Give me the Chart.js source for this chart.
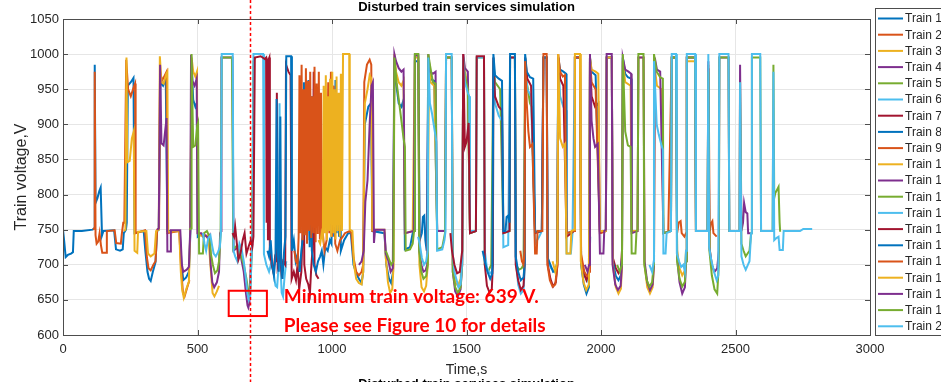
<!DOCTYPE html>
<html>
<head>
<meta charset="utf-8">
<title>Disturbed train services simulation</title>
<script src="https://cdn.jsdelivr.net/npm/chart.js@4.4.1/dist/chart.umd.min.js"></script>
<style>
    html, body { margin: 0; padding: 0; background: #fff; }
    #wrap { width: 941px; height: 382px; overflow: hidden; }
</style>
</head>
<body>
<div id="wrap"><canvas id="voltage" width="941" height="382"></canvas></div>
<script>
// Pantograph voltage of each train, [time s, voltage V]
const train1 = [[0,750],[4,735],[10,711],[18,714],[30,716],[37,718],[40,748],[70,748],[110,750],[116,752],[118,985],[121,788],[128,795],[135,805],[140,810],[145,742],[150,748],[190,749],[197,722],[212,720],[222,722],[226,745],[234,750],[237,760],[241,955],[252,960],[262,966],[266,745],[300,748],[306,720],[314,690],[320,680],[326,677],[334,690],[344,704],[350,748],[356,750],[362,960],[372,955],[382,965],[388,748],[434,748],[440,705],[447,678],[458,682],[468,690],[474,750],[478,985],[484,935],[492,925],[497,930],[501,740],[510,742]];
const train2 = [[112,750],[116,752],[118,975],[121,742],[125,730],[131,733],[136,745],[141,728],[146,717],[160,717],[163,748],[192,749],[198,731],[215,730],[219,745],[224,760],[228,760],[235,992],[242,950],[252,940],[263,953],[268,958],[270,745],[305,749],[312,710],[318,695],[326,692],[336,700],[344,705],[350,750],[357,752],[361,975],[368,962],[376,968],[385,975],[388,745],[432,748],[440,690],[446,660],[452,655],[462,668],[470,678]];
const train3 = [[226,748],[232,750],[236,995],[239,846],[248,848],[256,880],[263,890],[266,720],[276,717],[279,747],[310,748],[316,716],[326,712],[340,716],[346,748],[356,750],[360,997],[366,960],[374,958],[384,972],[388,975],[391,747],[432,748],[438,690],[443,665],[449,653],[458,665],[468,676],[473,748],[478,995],[484,975],[492,968],[498,975],[501,745],[520,740],[540,742],[548,700],[556,660],[563,655],[572,662],[580,670]];
const train4 = [[350,750],[356,752],[361,985],[366,873],[374,870],[381,895],[385,909],[388,719],[398,719],[401,749],[436,749],[442,700],[447,690],[460,693],[468,697],[473,750],[476,999],[481,962],[489,955],[497,965],[500,745],[515,745],[522,740],[530,742],[538,738],[545,742],[549,700],[555,675],[562,668],[572,675],[580,690],[584,745],[588,748],[589,995],[630,995],[634,720],[650,725],[662,710],[672,690],[680,660],[686,642],[689,639],[693,645],[698,700],[704,730]];
const train5 = [[470,750],[476,752],[478,1000],[484,868],[492,870],[499,898],[502,902],[506,716],[520,716],[524,745],[535,748],[545,740],[550,715],[557,700],[565,688],[574,692],[580,705],[586,745],[590,995],[628,995],[633,722],[648,728],[660,715],[672,700],[682,680],[690,660],[696,665],[702,720],[708,990],[715,995]];
const train6 = [[520,745],[526,730],[532,720],[540,738],[548,742],[554,728],[560,716],[568,712],[576,718],[583,725],[587,745],[590,1000],[631,1000],[634,720],[640,712],[648,705],[656,730],[664,722],[672,705],[680,680],[686,658],[691,650],[696,655],[700,700],[705,760],[708,1000],[744,1000],[747,715],[756,700],[766,690],[774,702],[782,690],[790,670],[796,668],[800,690],[805,930],[808,700],[813,660],[818,655],[823,680],[830,705]];
const train7 = [[630,745],[636,740],[640,754],[645,735],[652,707],[660,716],[668,735],[675,745],[682,716],[690,726],[698,735],[704,726],[708,740],[713,995],[735,997],[750,993],[755,995],[757,760],[759,990],[762,735],[764,992],[767,995],[769,720],[776,700],[782,690],[788,710],[793,705],[795,945],[798,700],[806,715],[812,690],[818,705],[826,700],[829,985],[838,975],[846,970],[850,680],[858,690],[866,678],[872,700],[878,665],[886,690],[890,740],[894,930],[897,700],[904,680],[912,672],[918,660],[922,690],[927,720],[932,975],[935,700],[942,685],[950,680]];
const train8 = [[760,720],[766,712],[772,735],[778,700],[784,685],[790,712],[794,936],[797,730],[802,690],[808,911],[811,700],[816,680],[822,720],[827,740],[830,997],[848,997],[851,720],[858,735],[865,705],[872,715],[880,690],[886,720],[892,740],[896,960],[899,745],[904,945],[908,735],[913,963],[917,725],[922,940],[925,720],[932,700],[940,690],[948,705],[956,712],[962,720],[968,700],[975,725],[984,720],[992,735],[998,730],[1004,955],[1008,740],[1013,963],[1017,745],[1022,935],[1026,740],[1029,925],[1033,720],[1045,735],[1060,745],[1070,745],[1080,700],[1090,688],[1100,680],[1110,674],[1116,690],[1122,900],[1135,925],[1145,930],[1150,748],[1195,745],[1202,700],[1212,680],[1220,674],[1227,690],[1232,995],[1238,960],[1248,930],[1258,925],[1266,935],[1271,722],[1290,725],[1300,745],[1306,748],[1308,990],[1321,990],[1326,735],[1334,745],[1338,768],[1343,770],[1347,735],[1352,720],[1358,995],[1364,965],[1380,962],[1391,748]];
const train9 = [[860,720],[866,705],[872,700],[876,740],[879,970],[883,745],[887,985],[891,735],[895,950],[899,742],[903,980],[907,730],[911,962],[915,748],[919,975],[923,738],[927,940],[931,745],[935,982],[939,732],[943,958],[947,744],[951,975],[955,736],[959,945],[963,748],[967,740],[972,720],[980,735],[986,960],[990,745],[996,975],[1000,740],[1006,955],[1012,730],[1020,720],[1030,735],[1040,740],[1048,745],[1066,748],[1072,745],[1080,710],[1090,690],[1100,685],[1110,690],[1116,700],[1120,960],[1130,985],[1140,992],[1146,985],[1150,748],[1160,748]];
const train10 = [[950,735],[956,730],[962,745],[966,738],[969,955],[973,745],[977,970],[981,735],[985,940],[989,748],[993,965],[997,740],[1001,975],[1005,745],[1009,950],[1013,736],[1017,968],[1021,748],[1025,945],[1029,740],[1033,972],[1037,748],[1041,1000],[1064,1000],[1066,750],[1076,748],[1082,700],[1090,680],[1100,674],[1110,672],[1116,690],[1122,930],[1132,950],[1140,970],[1146,965],[1150,750],[1195,750],[1200,710],[1208,675],[1216,660],[1224,665],[1229,700],[1232,1000],[1238,975],[1248,960],[1258,955],[1266,962],[1271,745],[1300,748],[1308,995],[1321,995],[1325,700],[1333,668],[1342,662],[1350,670],[1356,700],[1360,990],[1366,960],[1380,955],[1391,748],[1420,748],[1424,995],[1445,995],[1449,700],[1458,675],[1468,670],[1478,680],[1484,720],[1488,995],[1494,975],[1505,955],[1513,748],[1520,748]];
const train11 = [[1100,700],[1110,705],[1118,720],[1124,790],[1132,820],[1140,900],[1147,955],[1152,960],[1156,731],[1160,750],[1195,750],[1200,716],[1210,705],[1218,690],[1226,695],[1232,1000],[1238,990],[1248,980],[1258,975],[1266,978],[1271,745],[1304,748],[1308,998],[1321,998],[1325,720],[1332,700],[1340,690],[1348,692],[1354,700],[1358,1000],[1364,975],[1375,972],[1385,975],[1391,748],[1420,748],[1424,995],[1445,995],[1449,690],[1458,662],[1468,655],[1478,665],[1484,700],[1488,1000],[1494,980],[1505,975],[1513,745],[1535,748]];
const train12 = [[1200,720],[1210,710],[1220,700],[1228,705],[1232,995],[1240,960],[1250,930],[1259,902],[1266,880],[1271,868],[1274,720],[1290,722],[1300,730],[1305,748],[1308,1000],[1321,1000],[1324,720],[1332,690],[1340,680],[1350,684],[1356,700],[1358,1000],[1364,985],[1375,960],[1385,958],[1391,722],[1410,725],[1420,745],[1424,995],[1445,995],[1449,690],[1458,668],[1468,660],[1478,668],[1484,700],[1488,990],[1494,970],[1505,950],[1513,745],[1535,748],[1538,995],[1565,995],[1568,700],[1580,690],[1592,700],[1600,990],[1606,960],[1625,950],[1637,745],[1660,748],[1662,995],[1680,995],[1684,700],[1695,693],[1705,695],[1712,700],[1718,995],[1724,960],[1736,930],[1742,925],[1755,745]];
const train13 = [[1320,740],[1326,730],[1334,710],[1342,700],[1350,705],[1356,720],[1358,995],[1364,930],[1372,915],[1382,890],[1388,875],[1391,720],[1410,722],[1418,735],[1422,748],[1424,1000],[1445,1000],[1448,720],[1455,690],[1462,680],[1470,668],[1478,672],[1484,705],[1488,995],[1494,960],[1505,945],[1510,940],[1513,748],[1535,748],[1538,995],[1565,995],[1568,720],[1576,695],[1586,688],[1594,690],[1598,700],[1600,995],[1606,930],[1620,912],[1632,905],[1637,725],[1655,728],[1662,995],[1680,995],[1683,710],[1692,672],[1702,659],[1712,664],[1716,690],[1718,995],[1726,950],[1740,940],[1755,730],[1770,740],[1780,748],[1786,995],[1798,995],[1802,705],[1815,695],[1828,690],[1836,700],[1841,995],[1848,940],[1860,925],[1870,920],[1872,716],[1888,716],[1894,745],[1903,995],[1922,995],[1926,710],[1938,685],[1948,678],[1956,690],[1960,740]];
const train14 = [[1440,745],[1446,720],[1455,700],[1465,688],[1475,690],[1484,720],[1488,1000],[1494,868],[1500,875],[1508,902],[1513,745],[1535,748],[1538,997],[1565,997],[1568,700],[1576,670],[1586,660],[1594,665],[1598,700],[1600,995],[1606,940],[1620,925],[1632,920],[1637,745],[1660,748],[1662,995],[1680,995],[1683,700],[1692,678],[1702,664],[1712,670],[1716,700],[1718,995],[1726,965],[1740,955],[1755,745],[1780,748],[1786,995],[1798,995],[1802,700],[1812,680],[1822,669],[1832,675],[1838,700],[1841,995],[1848,965],[1860,955],[1872,740],[1900,748],[1903,995],[1922,995],[1926,705],[1936,688],[1946,678],[1955,688],[1959,995],[1965,940],[1978,925],[1990,930],[1996,745],[2018,748],[2021,995],[2040,995],[2044,710],[2055,695],[2065,688],[2074,695],[2078,720]];
const train15 = [[1560,720],[1568,705],[1578,690],[1588,680],[1596,688],[1600,1000],[1606,970],[1620,965],[1632,962],[1637,748],[1645,748],[1649,768],[1655,770],[1660,760],[1662,1000],[1680,1000],[1683,712],[1692,690],[1702,678],[1712,682],[1716,700],[1718,1000],[1724,975],[1736,967],[1748,965],[1755,747],[1780,748],[1786,995],[1798,995],[1802,710],[1812,700],[1822,690],[1832,692],[1838,705],[1841,995],[1848,978],[1860,975],[1870,972],[1872,745],[1900,748],[1903,995],[1922,995],[1926,700],[1936,672],[1946,659],[1955,668],[1959,995],[1965,975],[1980,970],[1996,748],[2018,748],[2021,995],[2040,995],[2044,705],[2055,684],[2065,678],[2074,685],[2078,710],[2081,995],[2090,972],[2100,967],[2112,965],[2114,748],[2136,748]];
const train16 = [[1700,720],[1706,705],[1712,700],[1716,720],[1718,990],[1724,930],[1730,890],[1736,868],[1745,872],[1755,716],[1761,716],[1764,748],[1782,748],[1786,1000],[1798,1000],[1801,700],[1810,678],[1820,669],[1830,672],[1838,700],[1841,1000],[1848,975],[1858,968],[1866,970],[1872,745],[1900,748],[1903,995],[1922,995],[1926,715],[1938,690],[1948,684],[1956,690],[1959,990],[1965,960],[1980,950],[1996,745],[2018,748],[2020,null],[2250,748],[2263,995],[2279,995],[2283,745],[2289,760],[2296,762],[2300,745],[2310,740],[2316,745],[2319,995],[2350,995],[2353,748],[2398,748],[2400,980],[2404,745],[2408,758],[2414,762],[2418,745],[2430,740]];
const train17 = [[1820,705],[1830,690],[1838,705],[1841,1000],[1848,880],[1858,868],[1866,872],[1872,716],[1886,716],[1890,748],[1900,750],[1903,1000],[1922,1000],[1925,705],[1935,675],[1945,664],[1955,672],[1959,995],[1965,978],[1980,975],[1990,972],[1996,748],[2018,748],[2021,995],[2040,995],[2044,700],[2055,668],[2065,659],[2074,666],[2078,700],[2081,990],[2090,960],[2110,955],[2114,748],[2136,748],[2139,995],[2158,995],[2162,700],[2172,668],[2182,659],[2192,668],[2197,700],[2200,980],[2208,955],[2225,950],[2232,745],[2260,748],[2263,995],[2279,995],[2283,720],[2292,695],[2302,685],[2312,692],[2316,720],[2319,990],[2350,990],[2353,748],[2396,748],[2399,985],[2402,748],[2405,720],[2412,700],[2420,690]];
const train18 = [[1940,700],[1950,690],[1956,700],[1959,1000],[1965,905],[1972,880],[1978,868],[1988,872],[1996,716],[2009,716],[2012,748],[2018,750],[2021,1000],[2040,1000],[2043,700],[2053,672],[2063,664],[2073,670],[2078,700],[2081,995],[2090,978],[2102,975],[2112,972],[2114,745],[2136,748],[2139,995],[2158,995],[2162,705],[2172,675],[2182,664],[2192,672],[2197,700],[2200,995],[2208,978],[2220,975],[2232,745],[2260,748],[2263,995],[2279,995],[2283,710],[2292,675],[2302,659],[2312,668],[2316,705],[2319,995],[2350,995],[2353,748],[2396,748],[2399,990],[2403,725],[2412,700],[2422,690],[2432,695],[2438,720],[2440,995],[2474,995],[2477,748],[2515,748],[2517,985],[2522,748],[2528,760],[2532,788],[2538,775],[2544,773],[2547,745],[2555,745]];
const train19 = [[2060,700],[2070,690],[2078,700],[2081,1000],[2090,890],[2100,870],[2110,868],[2114,716],[2128,716],[2132,748],[2136,750],[2139,1000],[2158,1000],[2161,700],[2170,678],[2180,669],[2190,675],[2196,700],[2197,1000],[2207,975],[2220,967],[2230,965],[2232,745],[2260,748],[2263,995],[2279,995],[2283,705],[2292,680],[2302,669],[2312,676],[2316,705],[2319,995],[2350,995],[2353,748],[2396,748],[2399,975],[2403,720],[2412,685],[2422,665],[2432,659],[2438,700],[2440,995],[2474,995],[2477,748],[2515,748],[2517,960],[2522,730],[2530,720],[2538,712],[2545,716],[2552,720],[2558,745],[2561,995],[2592,995],[2595,748],[2638,748],[2641,985],[2644,795],[2648,802],[2656,808],[2660,811],[2664,760],[2666,747]];
const train20 = [[2180,700],[2190,690],[2196,705],[2197,990],[2207,900],[2215,885],[2225,870],[2230,864],[2232,716],[2240,716],[2244,745],[2260,748],[2263,1000],[2279,1000],[2282,716],[2290,705],[2298,697],[2306,700],[2312,690],[2316,720],[2319,1000],[2350,1000],[2353,748],[2396,748],[2399,1000],[2402,725],[2410,707],[2420,690],[2430,678],[2436,685],[2440,1000],[2474,1000],[2477,748],[2515,748],[2517,960],[2522,712],[2530,700],[2538,693],[2546,700],[2552,705],[2558,745],[2561,1000],[2592,1000],[2595,748],[2638,748],[2641,975],[2644,735],[2652,738],[2660,740],[2664,721],[2676,721],[2679,748],[2740,748],[2752,751],[2785,751]];

const trains = [train1, train2, train3, train4, train5, train6, train7, train8, train9, train10,
    train11, train12, train13, train14, train15, train16, train17, train18, train19, train20];
const trainNames = trains.map((_, i) => 'Train ' + (i + 1));

// Axis ticks
const timeTicks = [0, 500, 1000, 1500, 2000, 2500, 3000];
const voltageTicks = [600, 650, 700, 750, 800, 850, 900, 950, 1000, 1050];

// Lowest voltage reached (train 4)
const minVoltage = 639;
const minTime = 689;
const markerTime = 697;

// MATLAB default colour order
const palette = ['#0072BD', '#D95319', '#EDB120', '#7E2F8E', '#77AC30', '#4DBEEE', '#A2142F'];
const inkColor = '#262626';
const axisFont = '"Liberation Sans", Arial, sans-serif';

const datasets = trains.map((pts, i) => ({
    label: trainNames[i],
    data: pts.map(p => ({ x: p[0], y: p[1] })),
    borderColor: palette[i % palette.length],
    backgroundColor: palette[i % palette.length],
    borderWidth: 2,
    pointRadius: 0,
    tension: 0,
    spanGaps: false,
    order: trains.length - i   // later trains on top
}));

/**
 * Axes box, inward tick marks, annotation, title and legend
 */
const decorations = {
    id: 'decorations',
    afterDraw(chart) {
        const { ctx, chartArea: area, scales } = chart;
        const xs = scales.x, ys = scales.y;
        ctx.save();

        // box + ticks
        ctx.strokeStyle = '#4d4d4d';
        ctx.lineWidth = 1;
        ctx.strokeRect(Math.round(area.left) + 0.5, Math.round(area.top) + 0.5,
            Math.round(area.right - area.left), Math.round(area.bottom - area.top));
        ctx.beginPath();
        timeTicks.forEach(t => {
            const x = Math.round(xs.getPixelForValue(t)) + 0.5;
            ctx.moveTo(x, area.bottom); ctx.lineTo(x, area.bottom - 5);
            ctx.moveTo(x, area.top); ctx.lineTo(x, area.top + 5);
        });
        voltageTicks.forEach(v => {
            const y = Math.round(ys.getPixelForValue(v)) + 0.5;
            ctx.moveTo(area.left, y); ctx.lineTo(area.left + 5, y);
            ctx.moveTo(area.right, y); ctx.lineTo(area.right - 5, y);
        });
        ctx.stroke();

        // title (repeated by the next panel below)
        const midX = (area.left + area.right) / 2;
        ctx.fillStyle = '#000';
        ctx.font = 'bold 13px ' + axisFont;
        ctx.textAlign = 'center';
        ctx.textBaseline = 'middle';
        ctx.fillText('Disturbed train services simulation', midX, 7.5);
        ctx.textBaseline = 'top';
        ctx.fillText('Disturbed train services simulation', midX, 378);

        // legend
        const lx = 875.5, ly = 8.5;
        ctx.fillStyle = '#fff';
        ctx.fillRect(lx, ly, 100, 327);
        ctx.strokeStyle = '#4d4d4d';
        ctx.strokeRect(lx, ly, 100, 327);
        ctx.font = '12px ' + axisFont;
        ctx.textAlign = 'left';
        ctx.textBaseline = 'middle';
        trainNames.forEach((name, i) => {
            const y = 18.5 + i * 16.2;
            ctx.strokeStyle = palette[i % palette.length];
            ctx.lineWidth = 2;
            ctx.beginPath();
            ctx.moveTo(878, y); ctx.lineTo(903, y);
            ctx.stroke();
            ctx.fillStyle = inkColor;
            ctx.fillText(name, 905, y + 0.5);
        });

        // minimum voltage marker
        const red = '#ff0000';
        ctx.strokeStyle = red;
        ctx.lineWidth = 2;
        const bx0 = xs.getPixelForValue(minTime - 73), bx1 = xs.getPixelForValue(minTime + 69);
        const by0 = ys.getPixelForValue(minVoltage + 24), by1 = ys.getPixelForValue(minVoltage - 12);
        ctx.strokeRect(bx0, by0, bx1 - bx0, by1 - by0);

        ctx.lineWidth = 1.5;
        ctx.setLineDash([3, 2.5]);
        const mx = Math.round(xs.getPixelForValue(markerTime)) + 0.5;
        ctx.beginPath();
        ctx.moveTo(mx, 0); ctx.lineTo(mx, chart.height);
        ctx.stroke();
        ctx.setLineDash([]);

        ctx.fillStyle = red;
        ctx.font = 'bold 19px Lato, "Open Sans", sans-serif';
        ctx.textAlign = 'left';
        ctx.textBaseline = 'middle';
        const tx = xs.getPixelForValue(821);
        ctx.fillText('Minimum train voltage: ' + minVoltage + ' V.', tx, ys.getPixelForValue(654));
        ctx.fillText('Please see Figure 10 for details', tx, ys.getPixelForValue(613));

        ctx.restore();
    }
};

new Chart(document.getElementById('voltage'), {
    type: 'line',
    data: { datasets },
    options: {
        responsive: false,
        animation: false,
        events: [],
        layout: { padding: { top: 19, right: 71, left: 0, bottom: 0 } },
        plugins: {
            legend: { display: false },
            title: { display: false },
            tooltip: { enabled: false }
        },
        scales: {
            x: {
                type: 'linear',
                min: 0,
                max: 3000,
                afterFit: s => { s.height = 47; },
                afterBuildTicks: s => { s.ticks = timeTicks.map(v => ({ value: v })); },
                grid: { color: '#e6e6e6', drawTicks: false },
                border: { display: false },
                ticks: {
                    padding: 7,
                    color: inkColor,
                    maxRotation: 0,
                    font: { family: axisFont, size: 13 },
                    callback: v => String(v)
                },
                title: {
                    display: true,
                    text: 'Time,s',
                    color: inkColor,
                    padding: { top: 0, bottom: 3 },
                    font: { family: axisFont, size: 14 }
                }
            },
            y: {
                type: 'linear',
                min: 600,
                max: 1050,
                afterFit: s => { s.width = 63; },
                afterBuildTicks: s => { s.ticks = voltageTicks.map(v => ({ value: v })); },
                grid: { color: '#e6e6e6', drawTicks: false },
                border: { display: false },
                ticks: {
                    padding: 4,
                    color: inkColor,
                    font: { family: axisFont, size: 13 },
                    callback: v => String(v)
                },
                title: {
                    display: true,
                    text: 'Train voltage,V',
                    color: inkColor,
                    padding: { top: 12, bottom: 0 },
                    font: { family: axisFont, size: 16 }
                }
            }
        }
    },
    plugins: [decorations]
});
</script>
</body>
</html>
